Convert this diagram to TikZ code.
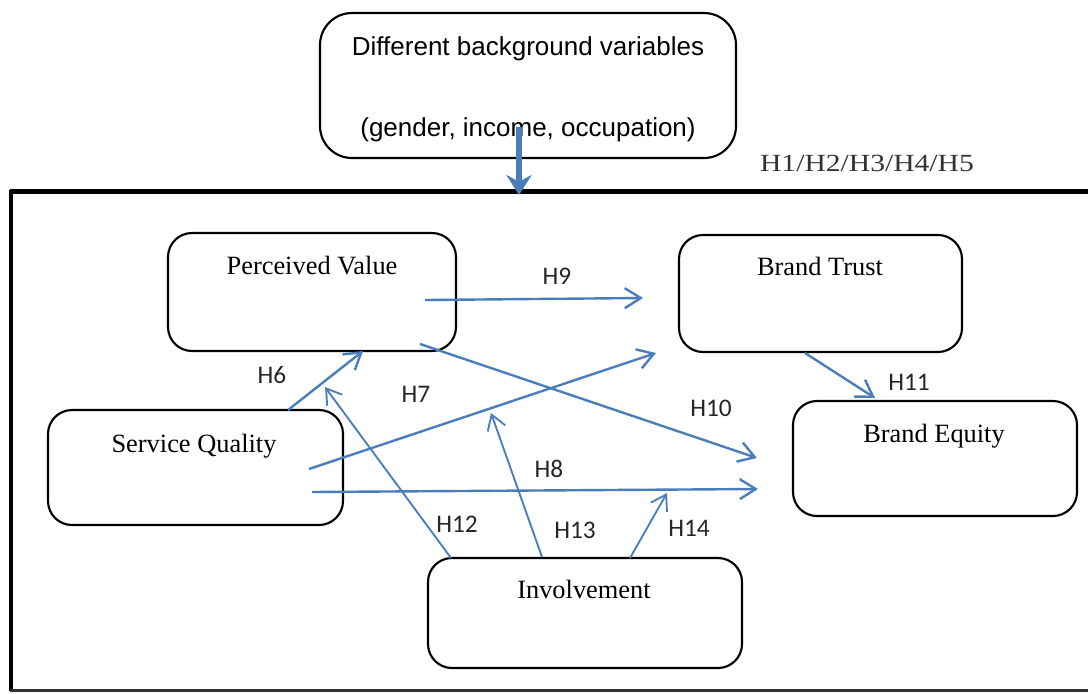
\documentclass[tikz,border=0pt]{standalone}
\usepackage{fontspec}
\setmainfont{Liberation Serif}
\newfontfamily\arialf{Liberation Sans}
\newfontfamily\calibf{Carlito}
\usetikzlibrary{arrows.meta}
\definecolor{arrowblue}{HTML}{4A7EBB}
\tikzset{
  box/.style={draw=black, line width=1.6pt, rounded corners=18pt, inner sep=0pt},
  boxtext/.style={font=\fontsize{19.8}{22}\selectfont, anchor=base, inner sep=0pt},
  toptext/.style={font=\arialf\fontsize{19.5}{22}\selectfont, anchor=base, inner sep=0pt},
  hlabel/.style={font=\calibf\fontsize{19}{21}\selectfont, text=black!85, anchor=base, inner sep=0pt},
  hyp/.style={draw=arrowblue, line width=1.8pt, -{Straight Barb[length=12pt,width=15pt]}},
  hypthin/.style={draw=arrowblue, line width=1.4pt, -{Straight Barb[length=11pt,width=14pt]}},
  bigarrow/.style={draw=arrowblue, line width=4pt, -{Stealth[length=15pt,width=19pt,inset=5pt]}},
}
\begin{document}
\begin{tikzpicture}[x=0.75pt, y=-0.75pt]
\useasboundingbox (0,0) rectangle (1088,693);
% outer frame
\draw[line width=3.8pt, black] (9.5,191.5) -- (1090,191.5);
\draw[line width=3pt, black] (11,190) -- (11,691);
\draw[line width=2.2pt, black!80] (10,690.5) -- (1090,690.5);
% boxes
\node[box, rounded corners=24pt, minimum width=416*0.75pt, minimum height=145*0.75pt] (bg) at (528,85.5) {};
\node[box, minimum width=288*0.75pt, minimum height=118*0.75pt] (pv) at (312,292) {};
\node[box, minimum width=283*0.75pt, minimum height=117*0.75pt] (bt) at (820.5,293.5) {};
\node[box, minimum width=295*0.75pt, minimum height=115*0.75pt] (sq) at (195.5,467.5) {};
\node[box, minimum width=284*0.75pt, minimum height=115*0.75pt] (be) at (935,458.5) {};
\node[box, minimum width=314*0.75pt, minimum height=110*0.75pt] (inv) at (585,613) {};
% box texts
\node[toptext] (bg1) at (528,55) {Different background variables};
\node[toptext] (bg2) at (528,136) {(gender, income, occupation)};
\node[boxtext] (pvt) at (312,274) {Perceived Value};
\node[boxtext] (btt) at (820,275) {Brand Trust};
\node[boxtext] (sqt) at (194,452) {Service Quality};
\node[boxtext] (bet) at (934,442) {Brand Equity};
\node[boxtext] (invt) at (584,598) {Involvement};
% hypothesis labels
\node[font=\fontsize{18.5}{21}\selectfont, text=black!80, anchor=base, inner sep=0pt, xscale=1.2, transform shape] (h15) at (867,171) {H1/H2/H3/H4/H5};
\node[hlabel] (l6) at (272,383) {H6};
\node[hlabel] (l7) at (416,402) {H7};
\node[hlabel] (l8) at (549,477) {H8};
\node[hlabel] (l9) at (557,284) {H9};
\node[hlabel] (l10) at (711,416) {H10};
\node[hlabel] (l11) at (909,390) {H11};
\node[hlabel] (l12) at (457,532) {H12};
\node[hlabel] (l13) at (575,538) {H13};
\node[hlabel] (l14) at (689,536) {H14};
% connector end points
\coordinate (bgs) at (519,127);
\coordinate (bge) at (519,195);
\coordinate (h9s) at (425,300);
\coordinate (h9e) at (643,298);
\coordinate (h10s) at (420,344);
\coordinate (h10e) at (757,458);
\coordinate (h7s) at (309,469);
\coordinate (h7e) at (656,353);
\coordinate (h8s) at (312,492);
\coordinate (h8e) at (758,489);
\coordinate (h6s) at (288,410);
\coordinate (h6e) at (363,351);
\coordinate (h11s) at (805,353);
\coordinate (h11e) at (875,398);
\coordinate (h12s) at (451,558);
\coordinate (h12e) at (325,387);
\coordinate (h13s) at (542,557);
\coordinate (h13e) at (491,413);
\coordinate (h14s) at (630,558);
\coordinate (h14e) at (667,493);
% connectors
\draw[bigarrow] (bgs) -- (bge);
\draw[hyp] (h9s) -- (h9e);
\draw[hyp] (h10s) -- (h10e);
\draw[hyp] (h7s) -- (h7e);
\draw[hyp] (h8s) -- (h8e);
\draw[hyp] (h6s) -- (h6e);
\draw[hyp] (h11s) -- (h11e);
\draw[hypthin] (h12s) -- (h12e);
\draw[hypthin] (h13s) -- (h13e);
\draw[hypthin] (h14s) -- (h14e);
\end{tikzpicture}
\end{document}
